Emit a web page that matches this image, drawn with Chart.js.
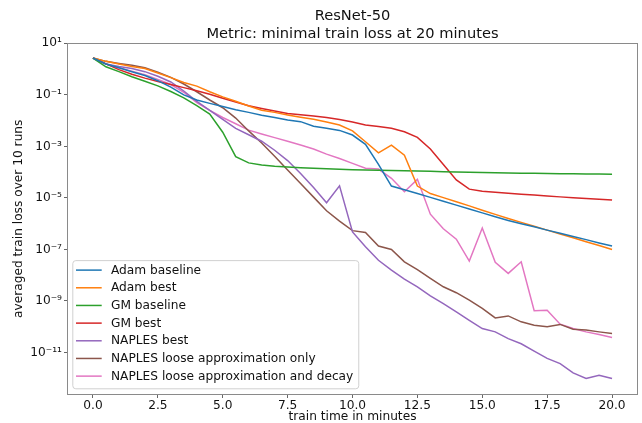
<!DOCTYPE html>
<html><head><meta charset="utf-8">
<script src="https://cdn.jsdelivr.net/npm/chart.js@4/dist/chart.umd.min.js"></script>
<style>html,body{margin:0;padding:0;background:#fff;}canvas{display:block;}</style>
</head><body>
<canvas id="c" width="642" height="423"></canvas>
<script>
// ---- data (log10 of averaged train loss) ----
const timeMinutes = [0,0.5,1,1.5,2,2.5,3,3.5,4,4.5,5,5.5,6,6.5,7,7.5,8,8.5,9,9.5,10,10.5,11,11.5,12,12.5,13,13.5,14,14.5,15,15.5,16,16.5,17,17.5,18,18.5,19,19.5,20];
const seriesLabels = ["Adam baseline","Adam best","GM baseline","GM best","NAPLES best","NAPLES loose approximation only","NAPLES loose approximation and decay"];
const seriesColors = ["#1f77b4","#ff7f0e","#2ca02c","#d62728","#9467bd","#8c564b","#e377c2"];
const adamBaselineLog10 = [0.43,0.2,0.05,-0.1,-0.25,-0.45,-0.7,-1.0,-1.2,-1.33,-1.45,-1.58,-1.68,-1.79,-1.88,-1.98,-2.04,-2.22,-2.3,-2.38,-2.56,-2.92,-3.7,-4.54,-4.68,-4.83,-4.98,-5.13,-5.28,-5.43,-5.58,-5.73,-5.88,-6.0,-6.12,-6.25,-6.37,-6.5,-6.62,-6.75,-6.87];
const adamBestLog10 = [0.43,0.3,0.2,0.1,0.02,-0.15,-0.33,-0.52,-0.66,-0.88,-1.08,-1.25,-1.43,-1.6,-1.68,-1.78,-1.87,-1.95,-2.05,-2.17,-2.4,-2.82,-3.25,-2.95,-3.34,-4.54,-4.83,-4.99,-5.15,-5.31,-5.48,-5.64,-5.8,-5.95,-6.1,-6.25,-6.4,-6.55,-6.7,-6.85,-7.0];
const gmBaselineLog10 = [0.43,0.09,-0.1,-0.3,-0.47,-0.65,-0.87,-1.12,-1.42,-1.75,-2.45,-3.4,-3.64,-3.72,-3.77,-3.8,-3.83,-3.85,-3.87,-3.89,-3.91,-3.92,-3.93,-3.94,-3.95,-3.96,-3.97,-3.98,-3.99,-4.0,-4.01,-4.02,-4.03,-4.04,-4.04,-4.05,-4.06,-4.06,-4.07,-4.07,-4.08];
const gmBestLog10 = [0.43,0.2,-0.02,-0.2,-0.35,-0.48,-0.6,-0.72,-0.84,-0.98,-1.13,-1.28,-1.42,-1.53,-1.63,-1.72,-1.77,-1.82,-1.88,-1.96,-2.05,-2.17,-2.23,-2.3,-2.43,-2.65,-3.1,-3.7,-4.3,-4.66,-4.74,-4.78,-4.82,-4.86,-4.89,-4.93,-4.96,-4.99,-5.02,-5.05,-5.08];
const naplesBestLog10 = [0.43,0.2,0.1,0.02,-0.1,-0.28,-0.5,-0.85,-1.25,-1.6,-1.95,-2.3,-2.55,-2.8,-3.15,-3.55,-4.05,-4.6,-5.19,-4.53,-6.32,-6.9,-7.42,-7.8,-8.15,-8.45,-8.8,-9.1,-9.42,-9.75,-10.07,-10.2,-10.46,-10.66,-10.95,-11.23,-11.43,-11.79,-12.01,-11.88,-12.01];
const naplesLooseLog10 = [0.43,0.3,0.22,0.15,0.05,-0.12,-0.32,-0.58,-0.88,-1.2,-1.5,-1.9,-2.4,-2.87,-3.38,-3.92,-4.44,-4.97,-5.5,-5.9,-6.27,-6.34,-6.87,-7.0,-7.48,-7.78,-8.12,-8.45,-8.68,-8.97,-9.29,-9.66,-9.58,-9.81,-9.94,-10.0,-9.91,-10.1,-10.13,-10.2,-10.26];
const naplesLooseDecayLog10 = [0.43,0.2,0.05,-0.08,-0.22,-0.4,-0.6,-0.9,-1.3,-1.6,-1.88,-2.12,-2.37,-2.52,-2.66,-2.8,-2.95,-3.1,-3.3,-3.47,-3.66,-3.85,-3.88,-4.24,-4.76,-4.28,-5.63,-6.2,-6.6,-7.45,-6.17,-7.5,-7.93,-7.48,-9.38,-9.36,-9.9,-10.07,-10.2,-10.3,-10.42];
const yTickExponents = [1,-1,-3,-5,-7,-9,-11];
const xTickValues = [0,2.5,5,7.5,10,12.5,15,17.5,20];
const titleLines = ["ResNet-50","Metric: minimal train loss at 20 minutes"];
const xAxisTitle = "train time in minutes";
const yAxisTitle = "averaged train loss over 10 runs";

const allSeries = [adamBaselineLog10, adamBestLog10, gmBaselineLog10, gmBestLog10, naplesBestLog10, naplesLooseLog10, naplesLooseDecayLog10];
const FONT = "'DejaVu Sans', sans-serif";
const BASE = 12.2;
const SUP = {'-':'\u207B','0':'\u2070','1':'\u00B9','2':'\u00B2','3':'\u00B3','4':'\u2074','5':'\u2075','6':'\u2076','7':'\u2077','8':'\u2078','9':'\u2079'};
const sup = s => String(s).split('').map(c => SUP[c] || c).join('');

const datasets = allSeries.map((arr, i) => ({
  label: seriesLabels[i],
  data: arr.map((v, j) => ({x: timeMinutes[j], y: Math.pow(10, v)})),
  borderColor: seriesColors[i],
  backgroundColor: seriesColors[i],
  borderWidth: 1.5,
  pointRadius: 0,
  tension: 0,
  fill: false
}));

const framePlugin = {
  id: 'frameAndLegend',
  afterDatasetsDraw(chart) {
    const ctx = chart.ctx, a = chart.chartArea;
    ctx.save();
    ctx.strokeStyle = '#8a8a8a';
    ctx.lineWidth = 1;
    ctx.strokeRect(Math.round(a.left) + 0.5, Math.round(a.top) + 0.5, Math.round(a.right - a.left) - 1, Math.round(a.bottom - a.top) - 1);
    // legend (matplotlib style, lower left inside axes)
    ctx.font = BASE + "px " + FONT;
    const rowH = 17.67;
    const items = chart.data.datasets;
    let maxW = 0;
    items.forEach(d => { maxW = Math.max(maxW, ctx.measureText(d.label).width); });
    const bx = a.left + 5.3, bh = rowH * items.length + 4.5;
    const by = a.bottom - 6.7 - bh;
    const textX = bx + 38.7;
    const bw = textX - bx + maxW + 5;
    ctx.beginPath();
    if (ctx.roundRect) ctx.roundRect(bx + 0.5, by + 0.5, bw, bh, 3); else ctx.rect(bx + 0.5, by + 0.5, bw, bh);
    ctx.fillStyle = 'rgba(255,255,255,0.85)';
    ctx.fill();
    ctx.strokeStyle = '#d0d0d0';
    ctx.stroke();
    ctx.textBaseline = 'middle';
    ctx.textAlign = 'left';
    items.forEach((d, i) => {
      const cy = by + 10 + i * rowH;
      ctx.beginPath();
      ctx.strokeStyle = d.borderColor;
      ctx.lineWidth = 1.5;
      ctx.moveTo(bx + 3.7, cy);
      ctx.lineTo(bx + 29.4, cy);
      ctx.stroke();
      ctx.fillStyle = '#111';
      ctx.fillText(d.label, textX, cy + 0.5);
    });
    ctx.restore();
  }
};

new Chart(document.getElementById('c'), {
  type: 'line',
  data: { datasets },
  options: {
    responsive: false,
    animation: false,
    devicePixelRatio: 1,
    layout: { padding: { left: 0, right: 4, top: 0, bottom: 0 } },
    plugins: {
      legend: { display: false },
      tooltip: { enabled: false },
      title: {
        display: true,
        fullSize: false,
        text: titleLines,
        color: '#111',
        font: { family: FONT, size: 14.64, weight: 'normal', lineHeight: 1.18 },
        padding: { top: 8, bottom: 0 }
      }
    },
    scales: {
      x: {
        type: 'linear',
        min: -1, max: 21,
        afterBuildTicks: s => { s.ticks = xTickValues.map(v => ({ value: v })); },
        afterFit: s => { s.height = 28; },
        ticks: { callback: v => Number(v).toFixed(1), color: '#111', font: { family: FONT, size: BASE }, padding: 1, maxRotation: 0, autoSkip: false },
        grid: { display: true, drawOnChartArea: false, drawTicks: true, tickLength: 3, tickColor: '#666' },
        border: { display: false },
        title: { display: true, text: xAxisTitle, color: '#111', font: { family: FONT, size: BASE }, padding: { top: 0, bottom: -1 } }
      },
      y: {
        type: 'logarithmic',
        min: Math.pow(10, -12.65), max: Math.pow(10, 1.03),
        afterBuildTicks: s => { s.ticks = yTickExponents.map(e => ({ value: Math.pow(10, e) })); },
        afterFit: s => { s.width = 67; },
        ticks: { callback: v => '10' + sup(Math.round(Math.log10(v))), color: '#111', font: { family: FONT, size: BASE }, padding: 2, autoSkip: false },
        grid: { display: true, drawOnChartArea: false, drawTicks: true, tickLength: 3, tickColor: '#666' },
        border: { display: false },
        title: { display: true, text: yAxisTitle, color: '#111', font: { family: FONT, size: BASE }, padding: { top: 12, bottom: 0 } }
      }
    }
  },
  plugins: [framePlugin]
});
</script>
</body></html>
